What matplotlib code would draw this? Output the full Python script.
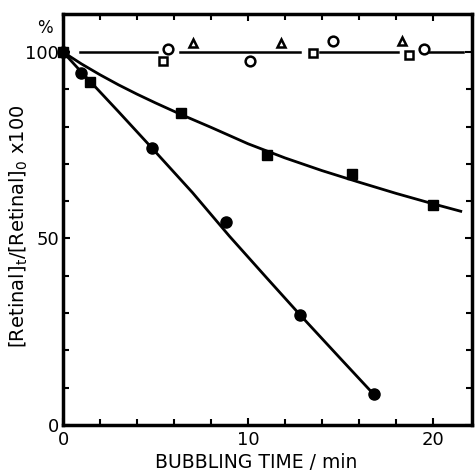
import numpy as np
import matplotlib
matplotlib.use('Agg')
import matplotlib.pyplot as plt

# Data #
circ_x = [0, 0.95, 4.8, 8.8, 12.8, 16.8]
circ_y = [100, 94.5, 74.3, 54.4, 29.5, 8.2]
sq_x = [0, 1.45, 6.4, 11.0, 15.6, 20.0]
sq_y = [100, 92.0, 83.6, 72.4, 67.3, 59.0]

# Hand drawn curves through the points #
circ_cx = [0, 1, 2, 3, 4.8, 7, 9, 11, 12.8, 15, 16.8]
circ_cy = [100, 94.6, 89.3, 84.0, 74.3, 62.3, 50.6, 39.5, 29.6, 17.8, 8.2]
sq_cx = [0, 1, 2, 3, 4, 5, 6.4, 8, 10, 12, 14, 16, 18, 20, 21.5]
sq_cy = [100, 96.8, 93.9, 91.2, 88.7, 86.35, 83.2, 79.8, 75.4, 71.6, 68.2, 65.1, 62.1, 59.3, 57.3]

# Open symbols near 100 % #
oc_x = [5.68, 10.1, 14.6, 19.5]
oc_y = [100.8, 97.6, 103.0, 100.8]
os_x = [5.4, 13.5, 18.7]
os_y = [97.6, 99.7, 99.2]
ot_x = [7.0, 11.8, 18.3]
ot_y = [102.4, 102.4, 103.0]
seg_x0 = [0.9, 6.3, 13.9, 19.8]
seg_x1 = [5.1, 12.8, 18.1, 21.6]

plt.rcParams['font.family'] = 'DejaVu Sans'

fig = plt.figure(figsize=(4.75, 4.73), dpi=100)
ax = fig.add_axes([63 / 475, 1 - 425 / 473, 409 / 475, 411 / 473])

ax.set_xlim(0, 409 / 18.5)
ax.set_ylim(0, 411 / 3.73)

# Reference line with gaps round the open symbols #
for a, b in zip(seg_x0, seg_x1):
    ax.plot([a, b], [100, 100], color='k', lw=1.8)

ax.plot(circ_cx, circ_cy, color='k', lw=2.0)
ax.plot(sq_cx, sq_cy, color='k', lw=2.0)

ax.plot(circ_x, circ_y, 'o', color='k', ms=8, clip_on=False, zorder=5)
ax.plot(sq_x, sq_y, 's', color='k', ms=7, clip_on=False, zorder=5)
ax.plot(oc_x, oc_y, 'o', mfc='white', mec='k', mew=1.8, ms=7)
ax.plot(os_x, os_y, 's', mfc='white', mec='k', mew=1.8, ms=6)
ax.plot(ot_x, ot_y, '^', mfc='white', mec='k', mew=1.8, ms=6)

for s in ax.spines.values():
    s.set_linewidth(2.5)

ax.set_xticks([0, 10, 20])
ax.set_xticks(np.arange(0, 22, 2), minor=True)
ax.set_yticks([0, 50, 100])
ax.set_yticks(np.arange(0, 110, 10), minor=True)
ax.tick_params(which='both', direction='in', top=True, right=True, width=1.5)
ax.tick_params(which='major', length=5, labelsize=13)
ax.tick_params(which='minor', length=4)
ax.tick_params(axis='y', pad=3)
ax.tick_params(axis='x', pad=4)

ax.text(-0.97, 106.5, '%', fontsize=12, ha='center', va='center', clip_on=False)

ax.set_xlabel('BUBBLING TIME / min', fontsize=13.5)
ax.xaxis.set_label_coords(0.472, -0.068)
ax.set_ylabel(r'[Retinal]$_{\mathrm{t}}$/[Retinal]$_{\mathrm{0}}$ x100', fontsize=14)
ax.yaxis.set_label_coords(-0.08, 0.483)

fig.savefig('out.png', dpi=100)
